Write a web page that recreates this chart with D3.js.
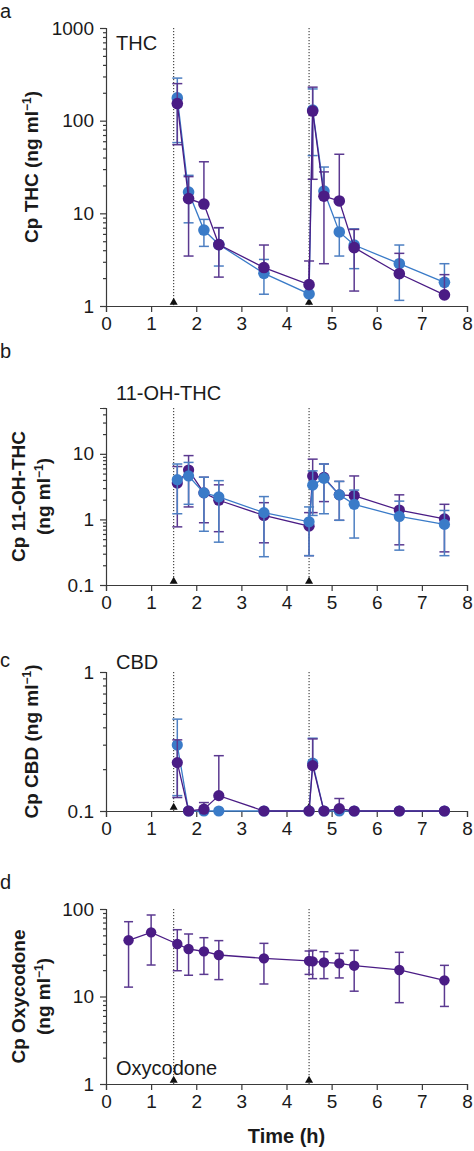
<!DOCTYPE html>
<html>
<head>
<meta charset="utf-8">
<script src="https://cdn.jsdelivr.net/npm/d3@7"></script>
<style>
  html, body { margin: 0; padding: 0; background: #fff; }
  svg { display: block; }
  text { font-family: "Liberation Sans", Arial, Helvetica, sans-serif; fill: #1a1a1a; }
</style>
</head>
<body>
<svg id="chart" width="474" height="1151"></svg>
<script>
// ---------------- DATA ----------------
const xTickValues = [0, 1, 2, 3, 4, 5, 6, 7, 8];
const doseTimes = [1.5, 4.5];
const sampleTimes = [1.58, 1.83, 2.17, 2.5, 3.5, 4.5, 4.58, 4.83, 5.17, 5.5, 6.5, 7.5];
const oxyTimes = [0.5, 1.0, 1.58, 1.83, 2.17, 2.5, 3.5, 4.5, 4.58, 4.83, 5.17, 5.5, 6.5, 7.5];

// THC (panel a)
const thcBlue    = [176, 17.0, 6.6, 4.6, 2.25, 1.35, 130, 17.4, 6.3, 4.55, 2.86, 1.8];
const thcBlueHi  = [288, 25.7, 8.6, 7.0, 3.18, null, 220, 31.6, 9.0, 6.8, 4.55, 2.86];
const thcBlueLo  = [58, 7.9, 4.4, 2.7, 1.34, null, 42, null, 3.46, 2.53, 1.15, null];
const thcPurple   = [153, 14.4, 12.6, 4.6, 2.6, 1.7, 127, 15.3, 13.6, 4.26, 2.23, 1.32];
const thcPurpleHi = [251, 24.9, 36, 7.0, 4.55, 3.06, 230, 28, 43.4, 6.7, 3.7, 2.18];
const thcPurpleLo = [55, 3.46, null, 2.05, null, null, 23.3, 2.86, null, 1.45, null, null];

// 11-OH-THC (panel b)
const ohBlue    = [4.03, 4.6, 2.54, 2.2, 1.27, 0.92, 3.33, 4.22, 2.37, 1.7, 1.11, 0.84];
const ohBlueHi  = [7.0, 7.4, 4.4, 3.9, 2.23, 1.55, 5.5, 7.0, 3.8, 2.8, 1.9, 1.37];
const ohBlueLo  = [1.22, 1.7, 0.66, 0.45, 0.27, 0.28, 1.15, 1.22, 0.97, 0.52, 0.34, 0.28];
const ohPurple   = [3.58, 5.67, 2.54, 1.96, 1.15, 0.79, 4.6, 4.37, 2.37, 2.31, 1.39, 1.02];
const ohPurpleHi = [6.4, 9.4, 4.4, 3.37, 1.8, 1.27, 8.3, 7.0, 3.8, 4.6, 2.37, 1.7];
const ohPurpleLo = [0.77, 1.55, 0.89, 0.65, 0.44, 0.28, 1.27, 1.87, 0.97, null, 0.41, 0.32];

// CBD (panel c)
const cbdBlue    = [0.298, 0.1, 0.1, 0.1, 0.1, 0.1, 0.221, 0.1, 0.1, 0.1, 0.1, 0.1];
const cbdBlueHi  = [0.458, null, null, null, null, null, 0.334, null, null, null, null, null];
const cbdBlueLo  = [0.129, null, null, null, null, null, null, null, null, null, null, null];
const cbdPurple   = [0.223, 0.1, 0.103, 0.129, 0.1, 0.1, 0.212, 0.1, 0.104, 0.1, 0.1, 0.1];
const cbdPurpleHi = [0.325, null, 0.115, 0.25, null, null, 0.33, null, 0.123, null, null, null];
const cbdPurpleLo = [0.125, null, null, null, null, null, null, null, null, null, null, null];

// Oxycodone (panel d)
const oxy   = [43.9, 54.1, 39.8, 34.9, 32.8, 29.8, 27.3, 25.5, 25.2, 24.5, 23.9, 22.5, 20.1, 15.3];
const oxyHi = [71.6, 85.4, 58, 51.8, 47, 43.5, 40.5, 33.1, 33.7, 32.5, 31.1, 33.7, 32, 22.7];
const oxyLo = [12.8, 22.9, 19.7, 17.5, 17.9, 15.6, 13.9, 17.9, 16, 16, 16.3, 11.5, 8.5, 7.7];

// ---------------- STYLE ----------------
const BLUE = "#3a7bc8", BLUE_BAR = "#4d7fc2";
const PURPLE = "#4a1c85", PURPLE_BAR = "#5b3990";
const AXIS = "#3a3a3a";
const FONT = '"Liberation Sans", Arial, sans-serif';

const svg = d3.select("#chart");
const x = d3.scaleLinear().domain([0, 8]).range([106, 467]);

function zip(t, m, hi, lo) {
  return t.map((tt, i) => ({ t: tt, v: m[i], hi: hi[i], lo: lo[i] }));
}

function drawPanel(cfg) {
  const y = d3.scaleLog().domain(cfg.domain).range([cfg.bottom, cfg.top]);
  const g = svg.append("g");

  const [d0, d1] = cfg.domain;
  const allTicks = [];
  for (let e = Math.floor(Math.log10(d0)); e <= Math.ceil(Math.log10(d1)); e++) {
    for (let k = 1; k <= 9; k++) {
      const v = +(k * Math.pow(10, e)).toPrecision(6);
      if (v >= d0 * 0.9999 && v <= d1 * 1.0001) allTicks.push(v);
    }
  }
  const isMajor = v => Math.abs(Math.log10(v) - Math.round(Math.log10(v))) < 1e-6;

  const yAxis = d3.axisLeft(y).tickValues(allTicks).tickSizeOuter(0).tickSize(6).tickPadding(6)
    .tickFormat(v => (isMajor(v) && cfg.labels.includes(v)) ? String(v) : "");
  const ya = g.append("g").attr("transform", `translate(${x(0)},0)`).call(yAxis);
  ya.selectAll(".tick line").attr("x2", d => isMajor(d) ? -6 : -3);
  ya.selectAll("line, path").attr("stroke", AXIS).attr("stroke-width", 1.2);
  ya.selectAll("text").attr("font-size", 19).attr("fill", "#1a1a1a").style("font-family", FONT);

  const xAxis = d3.axisBottom(x).tickValues(xTickValues).tickSizeOuter(0).tickSize(6).tickPadding(5)
    .tickFormat(d3.format("d"));
  const xa = g.append("g").attr("transform", `translate(0,${cfg.bottom})`).call(xAxis);
  xa.selectAll("line, path").attr("stroke", AXIS).attr("stroke-width", 1.2);
  xa.selectAll("text").attr("font-size", 19).attr("fill", "#1a1a1a").style("font-family", FONT);

  g.selectAll(".dose").data(doseTimes).enter().append("line")
    .attr("x1", d => x(d)).attr("x2", d => x(d))
    .attr("y1", cfg.top).attr("y2", cfg.bottom)
    .attr("stroke", "#222").attr("stroke-width", 1).attr("stroke-dasharray", "1.2,1.8");
  g.selectAll(".tri").data(doseTimes).enter().append("path")
    .attr("d", d3.symbol(d3.symbolTriangle, 28))
    .attr("transform", d => `translate(${x(d)},${cfg.bottom - 3.5})`)
    .attr("fill", "#111");

  cfg.series.forEach(s => {
    const data = s.data;
    const sg = g.append("g");
    const capW = s.cap;
    data.forEach(d => {
      const top = d.hi != null ? d.hi : d.v;
      const bot = d.lo != null ? d.lo : d.v;
      if (top === bot) return;
      sg.append("line").attr("x1", x(d.t)).attr("x2", x(d.t))
        .attr("y1", y(top)).attr("y2", y(bot))
        .attr("stroke", s.bar).attr("stroke-width", 1.5);
      if (d.hi != null) sg.append("line").attr("x1", x(d.t) - capW).attr("x2", x(d.t) + capW)
        .attr("y1", y(d.hi)).attr("y2", y(d.hi)).attr("stroke", s.bar).attr("stroke-width", 1.5);
      if (d.lo != null) sg.append("line").attr("x1", x(d.t) - capW).attr("x2", x(d.t) + capW)
        .attr("y1", y(d.lo)).attr("y2", y(d.lo)).attr("stroke", s.bar).attr("stroke-width", 1.5);
    });
    sg.append("path").datum(data)
      .attr("d", d3.line().x(d => x(d.t)).y(d => y(d.v)))
      .attr("fill", "none").attr("stroke", s.color).attr("stroke-width", 1.3);
    sg.selectAll("circle").data(data).enter().append("circle")
      .attr("cx", d => x(d.t)).attr("cy", d => y(d.v)).attr("r", s.r)
      .attr("fill", s.color);
  });

  g.append("text").attr("x", 116).attr("y", cfg.labelY).attr("font-size", 20).text(cfg.name);
  g.append("text").attr("x", 0).attr("y", cfg.letterY).attr("font-size", 20).text(cfg.letter);

  const cy = (cfg.top + cfg.bottom) / 2;
  cfg.title.forEach(line => {
    const t = g.append("text")
      .attr("transform", `translate(${line.x},${cy}) rotate(-90)`)
      .attr("text-anchor", "middle").attr("font-size", 19).attr("font-weight", "bold");
    line.parts.forEach(p => {
      const ts = t.append("tspan").text(p.text);
      if (p.sup) ts.attr("font-size", 12).attr("dy", -7);
    });
    if (line.parts.some(p => p.sup)) t.append("tspan").attr("dy", 7).text(line.tail || "");
  });
}

const unitParts = [{ text: "(ng ml" }, { text: "\u22121", sup: true }];

drawPanel({
  letter: "a", letterY: 18, name: "THC", labelY: 50,
  domain: [1, 1000], top: 28, bottom: 306, labels: [1, 10, 100, 1000],
  title: [{ x: 38, parts: [{ text: "Cp THC " }, ...unitParts], tail: ")" }],
  series: [
    { data: zip(sampleTimes, thcBlue, thcBlueHi, thcBlueLo), color: BLUE, bar: BLUE_BAR, r: 5.8, cap: 5 },
    { data: zip(sampleTimes, thcPurple, thcPurpleHi, thcPurpleLo), color: PURPLE, bar: PURPLE_BAR, r: 5.8, cap: 5 }
  ]
});

drawPanel({
  letter: "b", letterY: 358, name: "11-OH-THC", labelY: 400,
  domain: [0.1, 50], top: 408, bottom: 585, labels: [0.1, 1, 10],
  title: [
    { x: 25, parts: [{ text: "Cp 11-OH-THC" }] },
    { x: 50, parts: unitParts, tail: ")" }
  ],
  series: [
    { data: zip(sampleTimes, ohPurple, ohPurpleHi, ohPurpleLo), color: PURPLE, bar: PURPLE_BAR, r: 5.6, cap: 5 },
    { data: zip(sampleTimes, ohBlue, ohBlueHi, ohBlueLo), color: BLUE, bar: BLUE_BAR, r: 5.6, cap: 5 }
  ]
});

drawPanel({
  letter: "c", letterY: 667, name: "CBD", labelY: 669,
  domain: [0.1, 1], top: 672, bottom: 811, labels: [0.1, 1],
  title: [{ x: 38, parts: [{ text: "Cp CBD " }, ...unitParts], tail: ")" }],
  series: [
    { data: zip(sampleTimes, cbdBlue, cbdBlueHi, cbdBlueLo), color: BLUE, bar: BLUE_BAR, r: 5.6, cap: 5 },
    { data: zip(sampleTimes, cbdPurple, cbdPurpleHi, cbdPurpleLo), color: PURPLE, bar: PURPLE_BAR, r: 5.6, cap: 5 }
  ]
});

drawPanel({
  letter: "d", letterY: 889, name: "Oxycodone", labelY: 1075,
  domain: [1, 100], top: 909, bottom: 1084, labels: [1, 10, 100],
  title: [
    { x: 25, parts: [{ text: "Cp Oxycodone" }] },
    { x: 50, parts: unitParts, tail: ")" }
  ],
  series: [
    { data: zip(oxyTimes, oxy, oxyHi, oxyLo), color: PURPLE, bar: PURPLE_BAR, r: 5.2, cap: 4.5 }
  ]
});

svg.append("text").attr("x", x(4)).attr("y", 1143).attr("text-anchor", "middle")
  .attr("font-size", 20).attr("font-weight", "bold").text("Time (h)");
</script>
</body>
</html>
